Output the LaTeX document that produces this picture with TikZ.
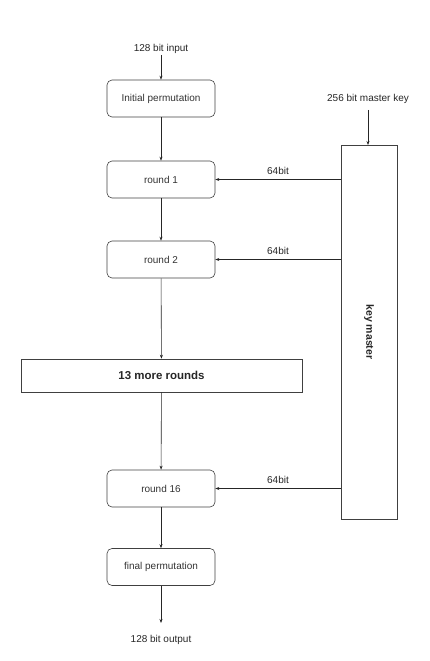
\documentclass[tikz,border=0pt]{standalone}
\usepackage{fontspec}
\setmainfont{Liberation Sans}
\usetikzlibrary{arrows.meta}
\begin{document}
\begin{tikzpicture}[x=1pt,y=-1pt,
  stagebox/.style={draw=black!75,line width=0.6pt,rounded corners=5pt,minimum width=108pt,minimum height=37pt,inner sep=0pt,font=\fontsize{10}{12}\selectfont,text=black!80},
  plainbox/.style={draw=black!75,line width=0.6pt,minimum width=281pt,minimum height=33pt,inner sep=0pt,font=\fontsize{11.5}{13}\selectfont\bfseries,text=black!85},
  lbl/.style={font=\fontsize{10}{12}\selectfont,text=black!85,inner sep=1pt},
  conn/.style={draw=black!85,line width=0.6pt,-{Stealth[length=4pt,width=3pt]}}]
\useasboundingbox (0,0) rectangle (429,661);
\node[lbl] (in) at (161,49) {128 bit input};
\node[stagebox] (ip) at (161,98.5) {Initial permutation};
\node[stagebox] (r1) at (161,179.5) {round 1};
\node[stagebox] (r2) at (161,259.5) {round 2};
\node[plainbox] (r13) at (161.5,375.5) {13 more rounds};
\node[stagebox] (r16) at (161,488.5) {round 16};
\node[stagebox] (fp) at (161,567) {final permutation};
\node[lbl] (out) at (161,640) {128 bit output};
\coordinate (outend) at (161,623);
\node[draw=black!75,line width=0.6pt,minimum width=56pt,minimum height=374pt,inner sep=0pt] (km) at (369,332) {};
\node[font=\fontsize{10.5}{12}\selectfont\bfseries,text=black!85,rotate=-90] (kmt) at (369,332) {key master};
\node[lbl] (mk) at (368,99) {256 bit master key};
\draw[conn] (in) -- (ip);
\draw[conn] (ip) -- (r1);
\draw[conn] (r1) -- (r2);
\draw[conn] (r2) -- (r13);
\draw[conn] (r13) -- (r16);
\draw[conn] (r16) -- (fp);
\draw[conn] (fp) -- (outend);
\draw[conn] (mk.south -| 368,0) ++(0,5) -- (368,145);
\draw[conn] (km.west |- r1) -- node[lbl,above=4pt] {64bit} (r1.east);
\draw[conn] (km.west |- r2) -- node[lbl,above=4pt] {64bit} (r2.east);
\draw[conn] (km.west |- r16) -- node[lbl,above=4pt] {64bit} (r16.east);
\end{tikzpicture}
\end{document}
